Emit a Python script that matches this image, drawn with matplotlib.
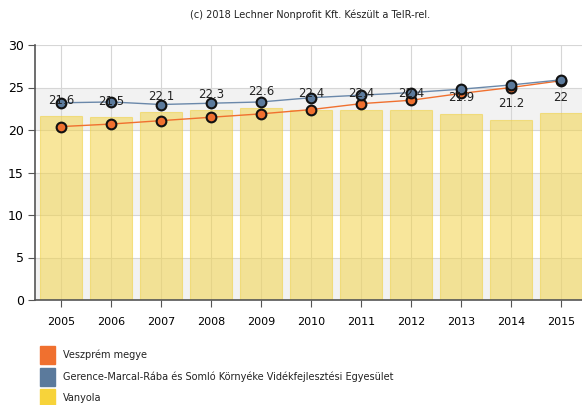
import numpy as np
import matplotlib
matplotlib.use('Agg')
import matplotlib.pyplot as plt
from matplotlib.patches import Rectangle

years = [2005, 2006, 2007, 2008, 2009, 2010, 2011, 2012, 2013, 2014, 2015]
vanyola = [21.6, 21.5, 22.1, 22.3, 22.6, 22.4, 22.4, 22.4, 21.9, 21.2, 22.0]
veszprem = [20.4, 20.7, 21.1, 21.5, 21.9, 22.4, 23.1, 23.5, 24.3, 25.0, 25.8]
gerence = [23.2, 23.3, 23.0, 23.15, 23.3, 23.8, 24.1, 24.4, 24.8, 25.3, 25.9]
bar_labels = ['21.6', '21.5', '22.1', '22.3', '22.6', '22.4', '22.4', '22.4', '21.9', '21.2', '22']

legend_names = ['Veszprém megye',
                'Gerence-Marcal-Rába és Somló Környéke Vidékfejlesztési Egyesület',
                'Vanyola']
legend_colors = ['#f0702f', '#5b7a9c', '#f7d33a']

fig = plt.figure(figsize=(5.82, 4.05), dpi=100)
ax = fig.add_axes([35 / 582, 1 - 300 / 405, 1 - 35 / 582, 255 / 405])

# alternating background bands
for lo in range(0, 30, 10):
    ax.axhspan(lo, lo + 5, color='#f2f2f2', zorder=0, lw=0)
ax.grid(True, color='#d6d6d6', lw=0.8, zorder=0.5)
ax.set_axisbelow(True)

ax.bar(years, vanyola, width=0.84, color='#f3d34a', alpha=0.55,
       edgecolor='#f0d040', lw=0.8, zorder=1)

ax.plot(years, veszprem, color=legend_colors[0], lw=1, zorder=3,
        marker='o', ms=7, mfc=legend_colors[0], mec='#111111', mew=1.5)
ax.plot(years, gerence, color='#6a88aa', lw=1, zorder=4,
        marker='o', ms=7, mfc=legend_colors[1], mec='#111111', mew=1.5)

for x, v, lab in zip(years, vanyola, bar_labels):
    ax.annotate(lab, (x, v), xytext=(0, 11.5), textcoords='offset points',
                ha='center', va='center', fontsize=8.5, color='#222222', zorder=5)

ax.set_xlim(2004.48, 2015.42)
ax.set_ylim(0, 30)
ax.set_yticks([0, 5, 10, 15, 20, 25, 30])
ax.set_xticks(years)
ax.tick_params(axis='y', labelsize=9, length=5, color='#555555', pad=3)
ax.tick_params(axis='x', labelsize=8, length=5, color='#555555', pad=7)
for s in ['top', 'right']:
    ax.spines[s].set_visible(False)
for s in ['left', 'bottom']:
    ax.spines[s].set_color('#555555')
    ax.spines[s].set_linewidth(1.2)

fig.text(310 / 582, 1 - 15 / 405, '(c) 2018 Lechner Nonprofit Kft. Készült a TeIR-rel.',
         ha='center', va='center', fontsize=7, color='#222222')

# legend
rows_y = [355, 377, 398]
for name, col, yy in zip(legend_names, legend_colors, rows_y):
    fig.patches.append(Rectangle((40 / 582, 1 - (yy + 9) / 405), 15 / 582, 18 / 405,
                                 transform=fig.transFigure, color=col, figure=fig))
    fig.text(63 / 582, 1 - yy / 405, name, ha='left', va='center',
             fontsize=7, color='#222222')

fig.savefig('out.png', dpi=100)
